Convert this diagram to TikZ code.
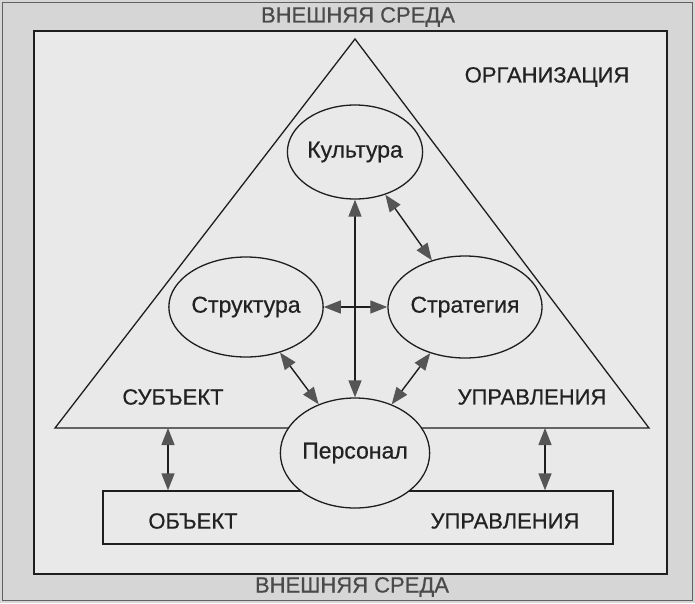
\documentclass[tikz,border=0pt]{standalone}
\usepackage{fontspec}
\setmainfont{Liberation Sans}
\newfontfamily\labelfont{Liberation Sans}[FakeBold=0.6]
\usetikzlibrary{shapes.geometric,arrows.meta}
\definecolor{bgout}{HTML}{D6D6D6}
\definecolor{bgin}{HTML}{E9E9E9}
\definecolor{ink}{HTML}{1E1E1E}
\definecolor{txt}{HTML}{222222}
\definecolor{envtxt}{HTML}{4A4A4A}
\definecolor{tipc}{HTML}{555555}
\tikzset{
  blob/.style={ellipse, draw=ink, line width=1.3pt, fill=bgin, inner sep=0pt, text=txt, font=\labelfont\fontsize{23}{23}\selectfont},
  caplabel/.style={text=txt, inner sep=0pt, font=\labelfont\fontsize{22}{22}\selectfont},
  envlabel/.style={text=envtxt, inner sep=0pt, font=\labelfont\fontsize{22}{22}\selectfont},
  link/.style={draw=ink, line width=1.4pt, >={Triangle[length=17pt 0 0, width=13pt 0 0, fill=tipc, color=tipc]}, <->}
}
\begin{document}
\begin{tikzpicture}[x=1pt,y=-1pt]
\useasboundingbox (0,0) rectangle (695,603);
% background and frames
\fill[bgout] (0,0) rectangle (695,603);
\draw[ink!70, line width=1pt] (2.5,2.5) rectangle (692.5,600.5);
\draw[ink, line width=1.4pt, fill=bgin] (34,31) rectangle (667,574);
\node[envlabel] (envtop) at (358,17) {ВНЕШНЯЯ СРЕДА};
\node[envlabel] (envbot) at (352,587) {ВНЕШНЯЯ СРЕДА};
% triangle
\coordinate (apex) at (355,39);
\coordinate (bl) at (55,428);
\coordinate (br) at (649,428);
\draw[ink, line width=1.3pt, line join=miter] (apex) -- (bl) -- (br) -- cycle;
\node[caplabel] (org) at (547,77) {ОРГАНИЗАЦИЯ};
\node[caplabel] (subj) at (173,397) {СУБЪЕКТ};
\node[caplabel] (uprtop) at (532,397) {УПРАВЛЕНИЯ};
% bottom box
\node[draw=ink, line width=1.3pt, fill=bgin, minimum width=510pt, minimum height=53pt, inner sep=0pt] (obj) at (358,517.5) {};
\node[caplabel] (objl) at (193,521) {ОБЪЕКТ};
\node[caplabel] (objr) at (505,521) {УПРАВЛЕНИЯ};
% ellipses
\node[blob, minimum width=116pt, minimum height=94pt] (kult) at (355,152) {Культура};
\node[blob, minimum width=126pt, minimum height=100pt] (struct) at (246,307) {Структура};
\node[blob, minimum width=128pt, minimum height=102pt] (strat) at (465,307) {Стратегия};
\node[blob, minimum width=132pt, minimum height=110pt] (pers) at (355,453) {Персонал};
% links
\draw[link] (kult) -- (strat);
\draw[link] (kult) -- (pers);
\draw[link] (struct) -- (strat);
\draw[link] (struct) -- (pers);
\draw[link] (strat) -- (pers);
\coordinate (ls) at (168,428);
\coordinate (rs) at (545,428);
\draw[link] (ls) -- (ls |- obj.north);
\draw[link] (rs) -- (rs |- obj.north);
\end{tikzpicture}
\end{document}
